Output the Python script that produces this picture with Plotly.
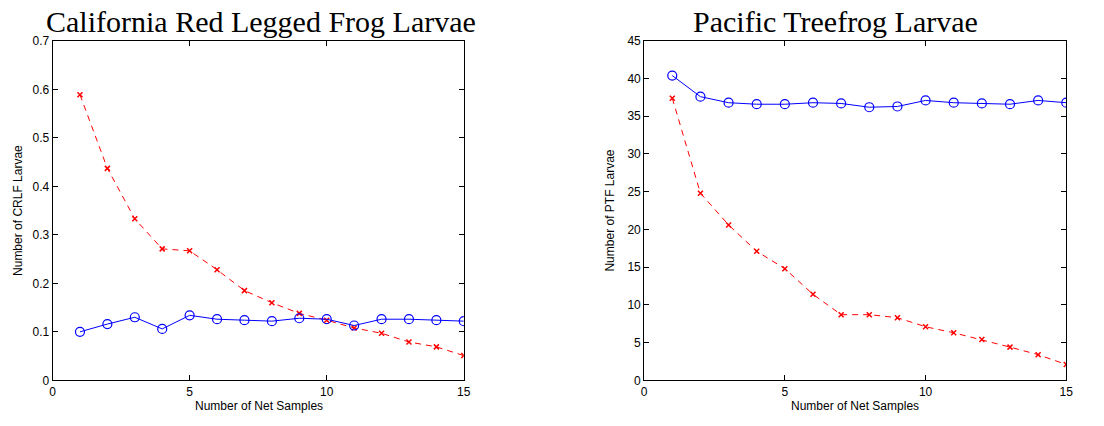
import plotly.graph_objects as go

W, H = 1104, 426

samples = list(range(1, 16))

crlf_red = [0.589, 0.437, 0.333, 0.271, 0.267, 0.228, 0.185, 0.160, 0.138, 0.124, 0.108, 0.097, 0.079, 0.069, 0.051]
crlf_blue = [0.100, 0.116, 0.130, 0.106, 0.134, 0.126, 0.124, 0.122, 0.128, 0.126, 0.113, 0.126, 0.126, 0.124, 0.122]

ptf_red = [37.4, 24.8, 20.6, 17.1, 14.8, 11.4, 8.7, 8.7, 8.3, 7.1, 6.3, 5.4, 4.4, 3.4, 2.1]
ptf_blue = [40.4, 37.6, 36.8, 36.6, 36.6, 36.8, 36.7, 36.2, 36.3, 37.1, 36.8, 36.7, 36.6, 37.1, 36.8]

titles = ["California Red Legged Frog Larvae", "Pacific Treefrog Larvae"]
ylabels = ["Number of CRLF Larvae", "Number of PTF Larvae"]
xlabel = "Number of Net Samples"

fig = go.Figure()

def px_x(p):
    return p / W

def px_y(p):
    return 1 - p / H

blue_style = dict(mode="lines+markers", line=dict(color="#0000ff", width=1),
                  marker=dict(symbol="circle-open", size=9, color="#0000ff", line=dict(width=1.2)),
                  showlegend=False, hoverinfo="x+y")
red_style = dict(mode="lines+markers", line=dict(color="#ff0000", width=1, dash="6px,5px"),
                 marker=dict(symbol="x-thin-open", size=5, color="#ff0000", line=dict(width=1.5, color="#ff0000")),
                 showlegend=False, hoverinfo="x+y")

fig.add_trace(go.Scatter(x=samples, y=crlf_red, xaxis="x", yaxis="y", **red_style))
fig.add_trace(go.Scatter(x=samples, y=crlf_blue, xaxis="x", yaxis="y", **blue_style))
fig.add_trace(go.Scatter(x=samples, y=ptf_red, xaxis="x2", yaxis="y2", **red_style))
fig.add_trace(go.Scatter(x=samples, y=ptf_blue, xaxis="x2", yaxis="y2", **blue_style))

tickfont = dict(family="Liberation Sans, Arial, sans-serif", size=12, color="#000000")
common_ax = dict(showgrid=False, zeroline=False, showline=True, linecolor="#000000", linewidth=1,
                 mirror="ticks", ticks="inside", ticklen=5, tickcolor="#000000", tickfont=tickfont)

ydom = [px_y(386), px_y(35)]
fig.update_layout(
    width=W, height=H,
    margin=dict(l=0, r=0, t=0, b=0),
    paper_bgcolor="#ffffff", plot_bgcolor="#ffffff",
    xaxis=dict(domain=[px_x(50), px_x(465)], range=[0, 15], tickvals=[0, 5, 10, 15], anchor="y", **common_ax),
    yaxis=dict(domain=ydom, range=[0, 0.7], tickvals=[0, 0.1, 0.2, 0.3, 0.4, 0.5, 0.6, 0.7],
               ticktext=["0", "0.1", "0.2", "0.3", "0.4", "0.5", "0.6", "0.7"], anchor="x", **common_ax),
    xaxis2=dict(domain=[px_x(647), px_x(1073)], range=[0, 15], tickvals=[0, 5, 10, 15], anchor="y2", **common_ax),
    yaxis2=dict(domain=ydom, range=[0, 45], tickvals=list(range(0, 50, 5)), anchor="x2", **common_ax),
)

title_font = dict(family="Liberation Serif, Times New Roman, serif", size=30, color="#000000")
label_font = dict(family="Liberation Sans, Arial, sans-serif", size=12, color="#000000")

annots = [
    dict(text=titles[0], x=px_x(260), y=px_y(15), font=title_font),
    dict(text=titles[1], x=px_x(840), y=px_y(15), font=title_font),
    dict(text=xlabel, x=px_x(258), y=px_y(413), font=label_font),
    dict(text=xlabel, x=px_x(860), y=px_y(413), font=label_font),
    dict(text=ylabels[0], x=px_x(15), y=px_y(210), font=label_font, textangle=-90),
    dict(text=ylabels[1], x=px_x(613), y=px_y(210), font=label_font, textangle=-90),
]
for a in annots:
    fig.add_annotation(xref="paper", yref="paper", showarrow=False, xanchor="center", yanchor="middle", **a)

fig.write_html("out.html", config={"displayModeBar": False},
               post_script="document.body.style.margin='0';document.body.style.overflow='hidden';")
